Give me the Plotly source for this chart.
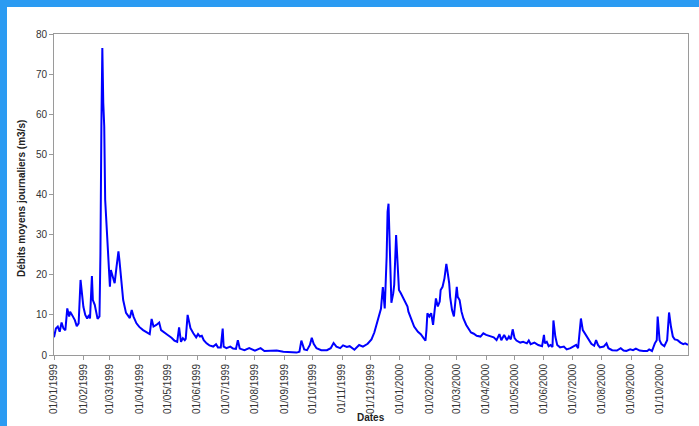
import plotly.graph_objects as go

# Daily mean discharge readings (m3/s), 1999-01-01 to 2000-10-31
dates = [
    "1999-01-01", "1999-01-03", "1999-01-05", "1999-01-07", "1999-01-09", "1999-01-11",
    "1999-01-13", "1999-01-15", "1999-01-17", "1999-01-18", "1999-01-20", "1999-01-23",
    "1999-01-25", "1999-01-27", "1999-01-29", "1999-01-30", "1999-02-01", "1999-02-03",
    "1999-02-05", "1999-02-07", "1999-02-08", "1999-02-10", "1999-02-11", "1999-02-13",
    "1999-02-15", "1999-02-16", "1999-02-18", "1999-02-19", "1999-02-20", "1999-02-21",
    "1999-02-22", "1999-02-23", "1999-02-24", "1999-02-25", "1999-02-27", "1999-03-01",
    "1999-03-02", "1999-03-04", "1999-03-06", "1999-03-08", "1999-03-10", "1999-03-11",
    "1999-03-13", "1999-03-15", "1999-03-18", "1999-03-22", "1999-03-24", "1999-03-26",
    "1999-03-29", "1999-04-01", "1999-04-05", "1999-04-08", "1999-04-12", "1999-04-14",
    "1999-04-16", "1999-04-19", "1999-04-22", "1999-04-24", "1999-04-28", "1999-05-01",
    "1999-05-05", "1999-05-08", "1999-05-11", "1999-05-13", "1999-05-15", "1999-05-17",
    "1999-05-19", "1999-05-20", "1999-05-22", "1999-05-23", "1999-05-25", "1999-05-28",
    "1999-05-31", "1999-06-02", "1999-06-04", "1999-06-06", "1999-06-08", "1999-06-11",
    "1999-06-14", "1999-06-18", "1999-06-21", "1999-06-23", "1999-06-26", "1999-06-28",
    "1999-06-29", "1999-07-02", "1999-07-06", "1999-07-09", "1999-07-12", "1999-07-14",
    "1999-07-16", "1999-07-21", "1999-07-26", "1999-08-01", "1999-08-07", "1999-08-11",
    "1999-08-17", "1999-08-24", "1999-08-31", "1999-09-07", "1999-09-14", "1999-09-17",
    "1999-09-19", "1999-09-22", "1999-09-25", "1999-09-28", "1999-09-30", "1999-10-02",
    "1999-10-05", "1999-10-10", "1999-10-16", "1999-10-20", "1999-10-23", "1999-10-26",
    "1999-10-30", "1999-11-02", "1999-11-06", "1999-11-09", "1999-11-14", "1999-11-19",
    "1999-11-23", "1999-11-28", "1999-12-02", "1999-12-05", "1999-12-08", "1999-12-10",
    "1999-12-12", "1999-12-14", "1999-12-15", "1999-12-16", "1999-12-18", "1999-12-19",
    "1999-12-20", "1999-12-21", "1999-12-22", "1999-12-23", "1999-12-25", "1999-12-26",
    "1999-12-28", "1999-12-29", "1999-12-30", "1999-12-31",
    "2000-01-02", "2000-01-05", "2000-01-07", "2000-01-09", "2000-01-10", "2000-01-13",
    "2000-01-16", "2000-01-20", "2000-01-23", "2000-01-26", "2000-01-28", "2000-01-29",
    "2000-01-30", "2000-02-01", "2000-02-03", "2000-02-05", "2000-02-06", "2000-02-08",
    "2000-02-10", "2000-02-12", "2000-02-13", "2000-02-15", "2000-02-17", "2000-02-19",
    "2000-02-20", "2000-02-22", "2000-02-23", "2000-02-25", "2000-02-27", "2000-02-29",
    "2000-03-01", "2000-03-02", "2000-03-04", "2000-03-06", "2000-03-08", "2000-03-11",
    "2000-03-14", "2000-03-16", "2000-03-19", "2000-03-22", "2000-03-26", "2000-03-29",
    "2000-04-01", "2000-04-05", "2000-04-09", "2000-04-12", "2000-04-15", "2000-04-17",
    "2000-04-20", "2000-04-23", "2000-04-25", "2000-04-27", "2000-04-29", "2000-05-01",
    "2000-05-03", "2000-05-07", "2000-05-10", "2000-05-14", "2000-05-16", "2000-05-18",
    "2000-05-22", "2000-05-26", "2000-05-30", "2000-06-01", "2000-06-02", "2000-06-04",
    "2000-06-06", "2000-06-08", "2000-06-10", "2000-06-11", "2000-06-13", "2000-06-15",
    "2000-06-18", "2000-06-22", "2000-06-25", "2000-06-29", "2000-07-02", "2000-07-05",
    "2000-07-07", "2000-07-10", "2000-07-12", "2000-07-14", "2000-07-16", "2000-07-18",
    "2000-07-21", "2000-07-24", "2000-07-26", "2000-07-28", "2000-07-30", "2000-08-03",
    "2000-08-06", "2000-08-08", "2000-08-12", "2000-08-17", "2000-08-21", "2000-08-24",
    "2000-08-27", "2000-08-31", "2000-09-03", "2000-09-06", "2000-09-10", "2000-09-14",
    "2000-09-18", "2000-09-20", "2000-09-23", "2000-09-26", "2000-09-28", "2000-09-29",
    "2000-10-01", "2000-10-03", "2000-10-06", "2000-10-09", "2000-10-10", "2000-10-11",
    "2000-10-13", "2000-10-15", "2000-10-17", "2000-10-20", "2000-10-23", "2000-10-26",
    "2000-10-28", "2000-10-31",
]

debits = [
    4.4, 6.6, 7.1, 5.8, 8.1, 6.6,
    6.2, 11.6, 9.6, 10.8, 10.0, 8.7,
    7.2, 7.9, 18.7, 16.6, 12.0, 10.0,
    9.1, 10.0, 9.1, 19.7, 13.7, 12.5,
    10.0, 9.0, 9.6, 25.4, 57.0, 76.5,
    62.8, 57.0, 38.7, 33.7, 25.4, 17.0,
    21.2, 19.5, 17.9, 22.0, 25.8, 23.7,
    18.7, 13.7, 10.5, 9.2, 11.2, 9.5,
    7.9, 7.0, 6.2, 5.8, 5.2, 9.0,
    7.1, 7.5, 8.1, 6.2, 5.6, 5.0,
    4.3, 3.6, 3.3, 6.9, 3.3, 4.2,
    3.7, 4.0, 10.0, 9.1, 6.7, 5.4,
    4.4, 5.2, 4.6, 4.8, 3.7, 2.9,
    2.4, 2.1, 2.7, 1.9, 1.9, 6.6,
    2.1, 1.7, 2.1, 1.6, 1.5, 3.7,
    1.6, 1.2, 1.7, 1.1, 1.7, 1.0,
    1.0, 1.1, 0.8, 0.75, 0.6, 0.8,
    3.6, 1.4, 1.2, 2.5, 4.3, 2.8,
    1.7, 1.2, 1.2, 1.7, 3.0, 2.1,
    1.7, 2.4, 2.0, 2.2, 1.3, 2.5,
    2.1, 2.8, 3.9, 5.6, 7.9, 9.7,
    11.5, 16.9, 14.5, 11.6, 24.5, 35.7,
    37.7, 30.0, 21.0, 13.0, 15.4, 17.5,
    29.9, 24.5, 18.7, 16.2,
    15.4, 14.1, 12.9, 12.1, 10.8, 8.7,
    7.1, 5.8, 5.2, 4.2, 3.6, 6.2,
    10.4, 9.6, 10.4, 7.5, 10.0, 14.1,
    12.1, 13.3, 16.2, 17.0, 19.1, 22.7,
    21.2, 17.9, 14.5, 11.2, 9.6, 13.7,
    17.0, 14.5, 13.7, 10.8, 9.1, 7.5,
    6.2, 5.6, 5.3, 4.8, 4.6, 5.4,
    5.0, 4.7, 4.4, 3.7, 5.2, 3.7,
    5.0, 3.7, 4.6, 3.9, 6.4, 4.2,
    3.6, 3.1, 3.3, 2.9, 3.6, 2.7,
    3.1, 2.5, 2.2, 5.0, 2.9, 3.3,
    2.2, 2.5, 2.0, 8.6, 4.6, 2.5,
    1.9, 2.1, 1.4, 1.7, 2.2, 2.5,
    1.7, 9.1, 6.2, 5.4, 4.6, 3.7,
    2.8, 2.3, 3.7, 2.5, 1.9, 2.1,
    2.9, 1.7, 1.2, 1.1, 1.7, 1.1,
    1.0, 1.4, 1.2, 1.6, 1.1, 1.0,
    1.0, 1.4, 1.0, 2.9, 3.7, 9.6,
    3.7, 2.7, 2.2, 3.7, 7.9, 10.6,
    7.1, 4.6, 3.9, 3.7, 3.1, 2.7,
    2.9, 2.5,
]

# Monthly tick positions and their labels
tick_dates = [
    "1999-01-01", "1999-02-01", "1999-03-01", "1999-04-01", "1999-05-01", "1999-06-01",
    "1999-07-01", "1999-08-01", "1999-09-01", "1999-10-01", "1999-11-01", "1999-12-01",
    "2000-01-01", "2000-02-01", "2000-03-01", "2000-04-01", "2000-05-01", "2000-06-01",
    "2000-07-01", "2000-08-01", "2000-09-01", "2000-10-01",
]
tick_labels = [
    "01/01/1999", "01/02/1999", "01/03/1999", "01/04/1999", "01/05/1999", "01/06/1999",
    "01/07/1999", "01/08/1999", "01/09/1999", "01/10/1999", "01/11/1999", "01/12/1999",
    "01/01/2000", "01/02/2000", "01/03/2000", "01/04/2000", "01/05/2000", "01/06/2000",
    "01/07/2000", "01/08/2000", "01/09/2000", "01/10/2000",
]
y_ticks = [0, 10, 20, 30, 40, 50, 60, 70, 80]

W, H = 699, 426
L, R, T, B = 54, 11, 34, 71
pw, ph = W - L - R, H - T - B


def px_x(p):
    return (p - L) / pw


def px_y(p):
    return (H - B - p) / ph


fig = go.Figure()
fig.add_trace(go.Scatter(
    x=dates, y=debits, mode="lines",
    line=dict(color="#0000FF", width=2),
    hoverinfo="x+y", showlegend=False,
))

axis_grey = "#9A9A9A"
font_main = "Liberation Sans, Arial, sans-serif"

fig.update_layout(
    width=W, height=H, autosize=False,
    margin=dict(l=L, r=R, t=T, b=B, pad=0),
    paper_bgcolor="#2B9BF2",
    plot_bgcolor="white",
    font=dict(family=font_main, size=10, color="#333333"),
    xaxis=dict(
        type="date", range=["1999-01-01", "2000-10-31"],
        tickmode="array", tickvals=tick_dates, ticktext=tick_labels,
        tickangle=-90, ticks="outside", ticklen=4, tickcolor=axis_grey,
        showline=True, linecolor=axis_grey, linewidth=1, mirror=True,
        showgrid=False, zeroline=False,
        tickfont=dict(size=10, color="#333333"),
    ),
    yaxis=dict(
        range=[0, 80], tickmode="array", tickvals=y_ticks,
        ticks="outside", ticklen=4, tickcolor=axis_grey,
        showline=True, linecolor=axis_grey, linewidth=1, mirror=True,
        showgrid=False, zeroline=False,
        tickfont=dict(size=10, color="#333333"),
    ),
    shapes=[
        # white page inside the blue frame (top and left bands)
        dict(type="rect", xref="paper", yref="paper", layer="below",
             x0=px_x(7), x1=px_x(W + 5), y0=px_y(H + 5), y1=px_y(7),
             fillcolor="white", line=dict(width=0)),
    ],
    annotations=[
        dict(text="<b>Dates</b>", xref="paper", yref="paper",
             x=px_x(371), y=px_y(418), xanchor="center", yanchor="middle",
             showarrow=False, font=dict(size=10, color="#222222")),
        dict(text="<b>Débits moyens journaliers (m3/s)</b>", xref="paper", yref="paper",
             x=px_x(22), y=px_y(199), xanchor="center", yanchor="middle",
             textangle=-90, showarrow=False, font=dict(size=10, color="#222222")),
    ],
)

fig.write_html("out.html")
